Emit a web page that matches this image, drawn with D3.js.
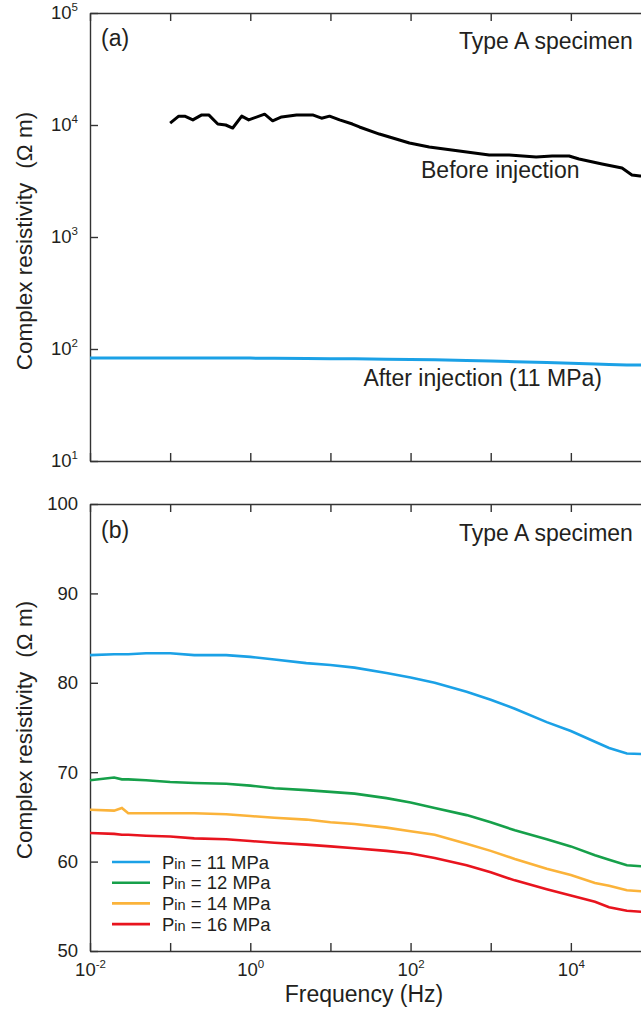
<!DOCTYPE html>
<html>
<head>
<meta charset="utf-8">
<script src="https://cdn.jsdelivr.net/npm/d3@7"></script>
<style>
  body { margin: 0; background: #fff; }
  svg { display: block; font-family: "Liberation Sans", Arial, Helvetica, sans-serif; }
</style>
</head>
<body>
<svg id="chart" width="641" height="1010"></svg>
<script>
// panel (a): before injection (Hz, ohm m)
const beforeFreq = [0.1, 0.128, 0.152, 0.192, 0.248, 0.303, 0.393, 0.494, 0.604, 0.782, 0.955, 1.51, 1.90, 2.46, 3.78, 5.99, 7.75, 9.75, 13.0, 18.8, 23.0, 40.8, 72.6, 96.7, 171, 405, 958, 1700, 3690, 5840, 9500, 12650, 24500, 43500, 57800, 72800, 100000];
const beforeRho = [10400, 12000, 12000, 11100, 12300, 12300, 10200, 10000, 9400, 12000, 11100, 12500, 10900, 11800, 12300, 12300, 11500, 12000, 11100, 10200, 9600, 8300, 7350, 6900, 6370, 5860, 5400, 5400, 5180, 5290, 5290, 4970, 4490, 4130, 3580, 3510, 3500];

// panel (b): frequency shared by the four injection pressures
const freq = [0.01, 0.02, 0.025, 0.03, 0.05, 0.1, 0.2, 0.5, 1, 2, 5, 10, 20, 50, 100, 200, 500, 1000, 2000, 5000, 10000, 20000, 30000, 50000, 100000];
const rho11 = [83.1, 83.2, 83.2, 83.2, 83.3, 83.3, 83.1, 83.1, 82.9, 82.6, 82.2, 82.0, 81.7, 81.1, 80.6, 80.0, 79.0, 78.1, 77.1, 75.6, 74.6, 73.4, 72.7, 72.1, 72.0];
const rho12 = [69.1, 69.4, 69.2, 69.2, 69.1, 68.9, 68.8, 68.7, 68.5, 68.2, 68.0, 67.8, 67.6, 67.1, 66.6, 66.0, 65.2, 64.4, 63.5, 62.5, 61.7, 60.7, 60.2, 59.6, 59.4];
const rho14 = [65.8, 65.7, 66.0, 65.4, 65.4, 65.4, 65.4, 65.3, 65.1, 64.9, 64.7, 64.4, 64.2, 63.8, 63.4, 63.0, 62.0, 61.2, 60.3, 59.2, 58.5, 57.6, 57.3, 56.8, 56.6];
const rho16 = [63.2, 63.1, 63.0, 63.0, 62.9, 62.8, 62.6, 62.5, 62.3, 62.1, 61.9, 61.7, 61.5, 61.2, 60.9, 60.4, 59.6, 58.8, 57.9, 56.9, 56.2, 55.5, 54.9, 54.5, 54.3];

const pressures = ['11', '12', '14', '16'];
const colors = ['#1ba1e6', '#16a04a', '#fbb33a', '#e8141e'];

const yTicksA = [1, 2, 3, 4, 5];
const yTicksB = [50, 60, 70, 80, 90, 100];
const xTickExp = [-2, -1, 0, 1, 2, 3, 4, 5];
const xLabelExp = [-2, 0, 2, 4];

const svg = d3.select('#chart');
const ink = '#231f20';
const axisColor = '#333';

const left = 90, right = 651;
const x = d3.scaleLog().domain([1e-2, 1e5]).range([left, right]);
const ya = d3.scaleLog().domain([10, 1e5]).range([461, 13]);
const yb = d3.scaleLinear().domain([50, 100]).range([951, 504]);

const styleAxis = (g) => {
    g.selectAll('path.domain').attr('stroke', axisColor).attr('stroke-width', 1.4);
    g.selectAll('.tick line').attr('stroke', axisColor).attr('stroke-width', 1.4);
    g.selectAll('.tick text').attr('fill', ink).attr('font-size', 18.5).attr('font-family', null);
};

// "10" with superscript exponent
const powLabel = (sel) => {
    sel.each(function(d) {
        const t = d3.select(this).text(null);
        t.append('tspan').text('10');
        t.append('tspan').attr('font-size', 11.5).attr('dy', '-0.75em').text(d);
    });
};

const xAxes = (yScale, showLabels) => {
    const [y0, y1] = yScale.range();
    const tv = xTickExp.map(e => Math.pow(10, e));
    svg.append('g')
        .attr('transform', `translate(0,${y1})`)
        .call(d3.axisTop(x).tickValues(tv).tickSize(-8).tickSizeOuter(0).tickFormat(''))
        .call(styleAxis);
    const bot = svg.append('g')
        .attr('transform', `translate(0,${y0})`)
        .call(d3.axisBottom(x).tickValues(tv).tickSize(-8).tickSizeOuter(0).tickPadding(12)
            .tickFormat(d => {
                const e = Math.round(Math.log10(d));
                return showLabels && xLabelExp.includes(e) ? String(e) : '';
            }))
        .call(styleAxis);
    if (showLabels) {
        bot.selectAll('.tick text').filter(function() { return this.textContent !== ''; })
            .each(function() { d3.select(this).datum(this.textContent); })
            .call(powLabel);
    }
};

// ---- panel (a)
const axA = svg.append('g')
    .attr('transform', `translate(${left},0)`)
    .call(d3.axisLeft(ya).tickValues(yTicksA.map(e => Math.pow(10, e))).tickSize(-8).tickSizeOuter(0).tickPadding(12)
        .tickFormat(d => String(Math.round(Math.log10(d)))))
    .call(styleAxis);
axA.selectAll('.tick text').each(function() { d3.select(this).datum(this.textContent); }).call(powLabel);
xAxes(ya, false);

const lineA = d3.line().x(d => x(d[0])).y(d => ya(d[1]));
svg.append('path')
    .attr('d', lineA(d3.zip(beforeFreq, beforeRho)))
    .attr('fill', 'none').attr('stroke', '#000').attr('stroke-width', 3).attr('stroke-linejoin', 'round');
svg.append('path')
    .attr('d', lineA(d3.zip(freq, rho11)))
    .attr('fill', 'none').attr('stroke', colors[0]).attr('stroke-width', 3);

const note = (tx, ty, txt, anchor) => svg.append('text')
    .attr('x', tx).attr('y', ty).attr('font-size', 23).attr('fill', ink)
    .attr('text-anchor', anchor || 'start').text(txt);

note(101, 46, '(a)');
note(459, 49, 'Type A specimen');
note(421, 178, 'Before injection');
note(602, 386, 'After injection (11 MPa)', 'end');

// ---- panel (b)
svg.append('g')
    .attr('transform', `translate(${left},0)`)
    .call(d3.axisLeft(yb).tickValues(yTicksB).tickSize(-8).tickSizeOuter(0).tickPadding(12))
    .call(styleAxis);
xAxes(yb, true);

const lineB = d3.line().x(d => x(d[0])).y(d => yb(d[1]));
const seriesB = [rho11, rho12, rho14, rho16];
svg.append('g').selectAll('path')
    .data(seriesB)
    .join('path')
    .attr('d', s => lineB(d3.zip(freq, s)))
    .attr('fill', 'none')
    .attr('stroke', (s, i) => colors[i])
    .attr('stroke-width', 2.6);

note(101, 538, '(b)');
note(459, 541, 'Type A specimen');

// legend
const leg = svg.append('g').selectAll('g')
    .data(pressures)
    .join('g')
    .attr('transform', (d, i) => `translate(112,${862 + i * 20.7})`);
leg.append('line')
    .attr('x1', 0).attr('x2', 38)
    .attr('stroke', (d, i) => colors[i]).attr('stroke-width', 2.6);
const lt = leg.append('text')
    .attr('x', 50).attr('y', 6.5).attr('font-size', 18.5).attr('fill', ink);
lt.append('tspan').text('P');
lt.append('tspan').attr('font-size', 14.5).text('in');
lt.append('tspan').text(d => ` = ${d} MPa`);

// axis titles
const yTitle = (cy) => {
    const t = svg.append('text')
        .attr('transform', `translate(32,${cy}) rotate(-90)`)
        .attr('text-anchor', 'middle').attr('font-size', 22.5).attr('fill', ink);
    t.append('tspan').text('Complex resistivity');
    t.append('tspan').attr('dx', 14).text('(Ω m)');
};
yTitle(241);
yTitle(730);

svg.append('text')
    .attr('x', 364).attr('y', 1002)
    .attr('text-anchor', 'middle').attr('font-size', 23).attr('fill', ink)
    .text('Frequency (Hz)');
</script>
</body>
</html>
